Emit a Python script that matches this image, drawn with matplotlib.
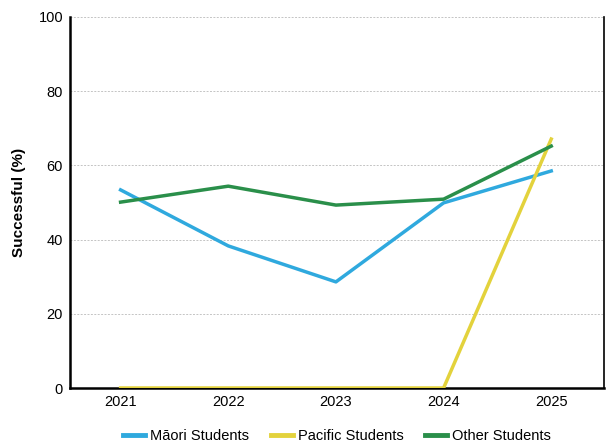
import matplotlib
matplotlib.use("Agg")
import matplotlib.pyplot as plt

years = ["2021", "2022", "2023", "2024", "2025"]
maori = [53.4, 38.3, 28.6, 49.9, 58.5]
pacific = [0, 0, 0, 0, 67.1]
other = [50.1, 54.4, 49.3, 50.9, 65.2]
yticks = [0, 20, 40, 60, 80, 100]

plt.rcParams['font.family'] = ['Liberation Sans', 'DejaVu Sans']

fig = plt.figure(figsize=(6.07, 4.43), dpi=100)
ax = fig.add_axes([70/607, 1-388/443, (604-70)/607, (388-17)/443])

x = list(range(len(years)))
ax.plot(x, maori, color="#2fa9de", lw=2.5, label="Māori Students", zorder=3)
ax.plot(x, pacific, color="#e3d23c", lw=2.5, label="Pacific Students", zorder=3)
ax.plot(x, other, color="#2a8f4a", lw=2.5, label="Other Students", zorder=4)

ax.set_xlim(-0.47, 4.49)
ax.set_ylim(0, 100)
ax.set_xticks(x)
ax.set_xticklabels(years)
ax.set_yticks(yticks)
ax.tick_params(length=0, labelsize=10.5, pad=5)
ax.grid(axis="y", color="#c4c4c4", ls=(0, (2, 1.5)), lw=0.7)
ax.set_axisbelow(True)
ax.spines["top"].set_visible(False)
ax.spines["left"].set_linewidth(1.8)
ax.spines["bottom"].set_linewidth(1.8)
ax.spines["right"].set_linewidth(1.2)
ax.set_ylabel("Successful (%)", fontsize=11, fontweight="bold", labelpad=9)

leg = ax.legend(loc="upper center", bbox_to_anchor=(0.5, -0.075), ncol=3, frameon=False,
                fontsize=10.5, handlelength=1.5, handletextpad=0.35, columnspacing=1.5)
for h in leg.legend_handles:
    h.set_linewidth(3.5)

fig.savefig("out.png", dpi=100)
